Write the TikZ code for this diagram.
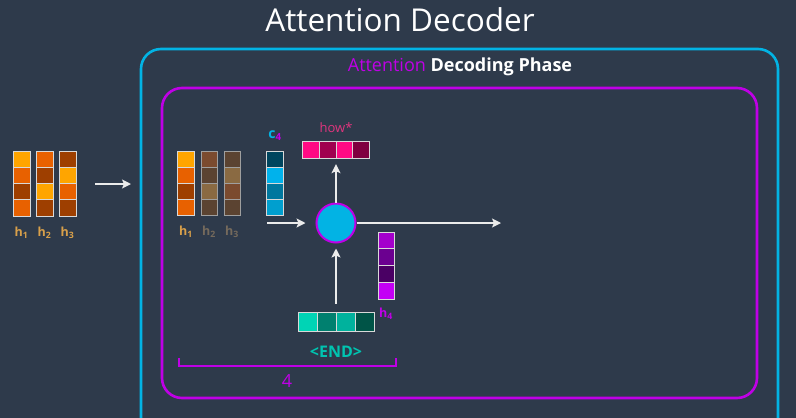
\documentclass[tikz,border=0pt]{standalone}
\usepackage{fontspec}
\setmainfont{Open Sans}
\usetikzlibrary{arrows.meta,positioning,calc}
\definecolor{bg}{HTML}{2E3A4B}
\definecolor{sky}{HTML}{02B3E4}
\definecolor{mag}{HTML}{BF00E6}
\definecolor{ambr}{HTML}{FFA500}
\definecolor{orng}{HTML}{E86100}
\definecolor{rust}{HTML}{9E3F00}
\definecolor{fadeA}{HTML}{7B4B2F}
\definecolor{fadeB}{HTML}{5B4331}
\definecolor{fadeC}{HTML}{8A6A42}
\definecolor{hlab}{HTML}{D9A04A}
\definecolor{hfade}{HTML}{756A5C}
\definecolor{cA}{HTML}{00455E}
\definecolor{cB}{HTML}{00B2EC}
\definecolor{cC}{HTML}{00779E}
\definecolor{cD}{HTML}{009FCF}
\definecolor{pkA}{HTML}{FF0A84}
\definecolor{pkB}{HTML}{A0004F}
\definecolor{pkC}{HTML}{7F0040}
\definecolor{pklab}{HTML}{E0357E}
\definecolor{prA}{HTML}{A400CC}
\definecolor{prB}{HTML}{6B0090}
\definecolor{prC}{HTML}{4A0064}
\definecolor{prD}{HTML}{C300F5}
\definecolor{tlA}{HTML}{00D4B5}
\definecolor{tlB}{HTML}{00806F}
\definecolor{tlC}{HTML}{00B29D}
\definecolor{tlD}{HTML}{005447}
\definecolor{tllab}{HTML}{00C4B0}
% cells of a vector: x, y (top left), cell width, cell height, colours
\newcommand{\vstack}[5]{%
  \foreach \c [count=\i from 0] in {#5}
    \filldraw[fill=\c] (#1,#2+\i*#4) rectangle ++(#3,#4);}
\newcommand{\hstack}[5]{%
  \foreach \c [count=\i from 0] in {#5}
    \filldraw[fill=\c] (#1+\i*#3,#2) rectangle ++(#3,#4);}

\begin{document}
\begin{tikzpicture}[x=1pt,y=-1pt,
    cell/.style={draw=white!85!black,line width=1pt},
    dimcell/.style={draw=gray!75,line width=1pt},
    flow/.style={draw=white!92!black,line width=1.4pt,
      -{Stealth[length=9pt,width=9pt,inset=2pt]}},
    lab/.style={font=\fontsize{12.5}{14}\selectfont\bfseries},
    frame/.style={line width=2.6pt,rounded corners=20pt}]
  \useasboundingbox (0,0) rectangle (796,418);
  \fill[bg] (0,0) rectangle (796,418);

  \node[white,font=\fontsize{31.5}{38}\selectfont] (title) at (400,20) {Attention Decoder};

  % boxes
  \draw[sky,frame] (141,430) -- (141,49) -- (778,49) -- (778,430);
  \node[white,font=\fontsize{18}{21}\selectfont\bfseries] (phase) at (460,67)
    {\textcolor{mag}{\mdseries Attention} Decoding Phase};
  \draw[mag,frame] (162,88) rectangle (757,398);

  % encoder states
  \begin{scope}[cell]
    \vstack{13}{151}{17}{16.25}{ambr,orng,rust,orng}
    \vstack{36}{151}{17}{16.25}{orng,rust,ambr,rust}
    \vstack{59}{151}{17}{16.25}{rust,ambr,orng,rust}
  \end{scope}
  \node[lab,hlab] (l1) at (21.5,233) {h\textsubscript{1}};
  \node[lab,hlab] (l2) at (44.5,233) {h\textsubscript{2}};
  \node[lab,hlab] (l3) at (67.5,233) {h\textsubscript{3}};
  \coordinate (feed) at (95,184);
  \coordinate (into) at (131,184);
  \draw[flow] (feed) -- (into);

  % scored states
  \begin{scope}[cell]
    \vstack{177}{151}{17}{16}{ambr,orng,rust,orng}
  \end{scope}
  \begin{scope}[dimcell]
    \vstack{201}{151}{16.5}{16}{fadeA,fadeB,fadeC,fadeB}
    \vstack{224}{151}{16.5}{16}{fadeB,fadeC,fadeA,fadeB}
  \end{scope}
  \node[lab,hlab] (s1) at (186,232) {h\textsubscript{1}};
  \node[lab,hfade] (s2) at (209,232) {h\textsubscript{2}};
  \node[lab,hfade] (s3) at (232,232) {h\textsubscript{3}};

  % context vector
  \begin{scope}[cell]
    \vstack{266}{151}{17}{16}{cA,cB,cC,cD}
  \end{scope}
  \node[sky,font=\fontsize{14}{16}\selectfont\bfseries] (lc) at (275,136)
    {c\textsubscript{\textcolor{mag}{4}}};

  % decoder cell
  \node[circle,fill=sky,draw=mag,line width=2pt,minimum size=39pt,inner sep=0pt]
    (att) at (336,223) {};
  \coordinate (cin) at (267,223);
  \coordinate (cout) at (501,223);

  % output
  \node[inner sep=0pt,minimum width=67pt,minimum height=17pt] (how) at (336,149.5) {};
  \begin{scope}[cell]
    \hstack{302.5}{141}{16.75}{17}{pkA,pkB,pkA,pkC}
  \end{scope}
  \node[pklab,font=\fontsize{13}{15}\selectfont] (lhow) at (336,128) {how*};

  % hidden state
  \begin{scope}[cell]
    \vstack{378}{232}{16}{16.75}{prA,prB,prC,prD}
  \end{scope}
  \node[lab,mag] (l4) at (386,314) {h\textsubscript{4}};

  % input token
  \node[inner sep=0pt,minimum width=76pt,minimum height=19pt] (endv) at (336,321.5) {};
  \begin{scope}[cell]
    \hstack{298}{312}{19}{19}{tlA,tlB,tlC,tlD}
  \end{scope}
  \node[tllab,font=\fontsize{16}{18}\selectfont\bfseries] (lend) at (336,352) {<END>};

  \draw[flow,shorten >=10pt] (cin) -- (att.west);
  \draw[flow] (att.east) -- (cout);
  \draw[flow,shorten >=6pt] (att.north) -- (how.south);
  \draw[flow,shorten <=8pt,shorten >=5pt] (endv.north) -- (att.south);

  % length bracket
  \draw[mag,line width=1.6pt] (179,358) -- (179,366) -- (396,366) -- (396,358);
  \node[mag,font=\fontsize{18}{20}\selectfont] (len) at (287,381) {4};
\end{tikzpicture}
\end{document}
